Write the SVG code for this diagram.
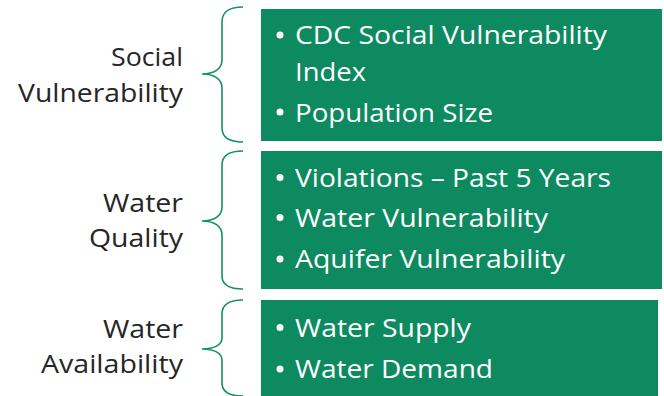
<svg xmlns="http://www.w3.org/2000/svg" width="664" height="396" viewBox="0 0 664 396">
<style>
.box{fill:#0D8A5F}
.brace{fill:none;stroke:#17905F;stroke-width:1.6}
.item{font-family:"Open Sans","Noto Sans","Liberation Sans",sans-serif;font-size:25px;fill:#fff}
.bullet{fill:#fff}
.lbl{font-family:"Open Sans","Noto Sans","Liberation Sans",sans-serif;font-size:25px;fill:#262626;text-anchor:end}
</style>
<rect width="664" height="396" fill="#fff"/>
<g id="connectors">
<path class="brace" d="M243,7 C228,7 222,12 222,22 L222,60 C222,69 214,74 202,74 C214,74 222,79 222,88 L222,128 C222,137 228,142 243,142"/>
<path class="brace" d="M243,151 C228,151 222,156 222,165 L222,207 C222,216 214,221 202,221 C214,221 222,226 222,235 L222,276 C222,284 228,289 243,289"/>
<path class="brace" d="M243,300 C228,300 222,305 222,314 L222,338 C222,345 214,349 202,349 C214,349 222,353 222,360 L222,383 C222,391 228,396 243,396"/>
</g>
<g id="social-label">
<text class="lbl" x="183" y="66" textLength="72" lengthAdjust="spacingAndGlyphs">Social</text>
<text class="lbl" x="183" y="102" textLength="165" lengthAdjust="spacingAndGlyphs">Vulnerability</text>
</g>
<g id="quality-label">
<text class="lbl" x="183" y="212" textLength="80" lengthAdjust="spacingAndGlyphs">Water</text>
<text class="lbl" x="183" y="247" textLength="94" lengthAdjust="spacingAndGlyphs">Quality</text>
</g>
<g id="availability-label">
<text class="lbl" x="183" y="338" textLength="80" lengthAdjust="spacingAndGlyphs">Water</text>
<text class="lbl" x="183" y="373" textLength="142" lengthAdjust="spacingAndGlyphs">Availability</text>
</g>
<g id="social-box">
<rect class="box" x="261" y="9" width="401" height="132"/>
<circle class="bullet" cx="280" cy="35" r="3.5"/>
<text class="item" x="295" y="44" textLength="312" lengthAdjust="spacingAndGlyphs">CDC Social Vulnerability</text>
<text class="item" x="295" y="81" textLength="71" lengthAdjust="spacingAndGlyphs">Index</text>
<circle class="bullet" cx="280" cy="112" r="3.5"/>
<text class="item" x="295" y="121.5" textLength="198" lengthAdjust="spacingAndGlyphs">Population Size</text>
</g>
<g id="quality-box">
<rect class="box" x="261" y="151" width="401" height="138"/>
<circle class="bullet" cx="280" cy="177.5" r="3.5"/>
<text class="item" x="295" y="186.5" textLength="316" lengthAdjust="spacingAndGlyphs">Violations – Past 5 Years</text>
<circle class="bullet" cx="280" cy="217.5" r="3.5"/>
<text class="item" x="295" y="226.5" textLength="253" lengthAdjust="spacingAndGlyphs">Water Vulnerability</text>
<circle class="bullet" cx="280" cy="259" r="3.5"/>
<text class="item" x="295" y="268" textLength="270" lengthAdjust="spacingAndGlyphs">Aquifer Vulnerability</text>
</g>
<g id="availability-box">
<rect class="box" x="261" y="300" width="397" height="96"/>
<circle class="bullet" cx="280" cy="327.5" r="3.5"/>
<text class="item" x="295" y="336.5" textLength="176" lengthAdjust="spacingAndGlyphs">Water Supply</text>
<circle class="bullet" cx="280" cy="369" r="3.5"/>
<text class="item" x="295" y="378" textLength="198" lengthAdjust="spacingAndGlyphs">Water Demand</text>
</g>
</svg>
